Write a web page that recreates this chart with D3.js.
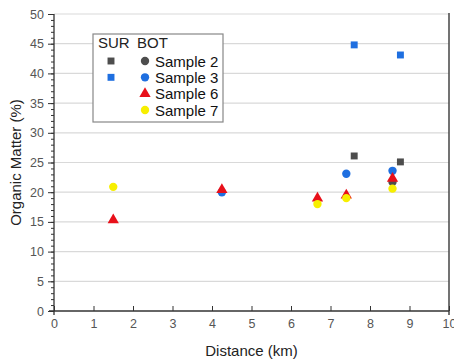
<!DOCTYPE html>
<html>
<head>
<meta charset="utf-8">
<script src="https://cdn.jsdelivr.net/npm/d3@7"></script>
<style>
  html, body { margin: 0; padding: 0; background: #fff; }
  svg { display: block; font-family: Arial, "Liberation Sans", sans-serif; }
</style>
</head>
<body>
<svg id="chart" width="454" height="360"></svg>
<script>
// Organic matter content against distance, surface (SUR) and bottom (BOT) samples
const xTicks = [0, 1, 2, 3, 4, 5, 6, 7, 8, 9, 10];
const yTicks = [0, 5, 10, 15, 20, 25, 30, 35, 40, 45, 50];

const sample2Sur = [{x: 7.6, y: 26.1}, {x: 8.77, y: 25.1}];
const sample3Sur = [{x: 7.6, y: 44.8}, {x: 8.77, y: 43.1}];
const sample2Bot = [{x: 8.57, y: 21.7}];
const sample3Bot = [{x: 4.25, y: 20.0}, {x: 7.4, y: 23.1}, {x: 8.57, y: 23.6}];
const sample6Bot = [{x: 1.5, y: 15.3}, {x: 4.25, y: 20.4}, {x: 6.67, y: 19.0}, {x: 7.4, y: 19.5}, {x: 8.57, y: 22.3}];
const sample7Bot = [{x: 1.5, y: 20.9}, {x: 6.67, y: 18.0}, {x: 7.4, y: 19.0}, {x: 8.57, y: 20.6}];

const colors = { s2: "#4d4d4d", s3: "#1f6fe0", s6: "#e8101a", s7: "#f7ef00" };

const svg = d3.select("#chart");
const m = { left: 54, top: 14, right: 449, bottom: 311 };

const x = d3.scaleLinear().domain([0, 10]).range([m.left, m.right]);
const y = d3.scaleLinear().domain([0, 50]).range([m.bottom, m.top]);

// horizontal grid lines
svg.append("g")
  .selectAll("line")
  .data(yTicks.filter(d => d > 0))
  .join("line")
  .attr("x1", m.left).attr("x2", m.right)
  .attr("y1", d => y(d)).attr("y2", d => y(d))
  .attr("stroke", "#d9d9d9").attr("stroke-width", 1.2);

// right frame edge
svg.append("line")
  .attr("x1", m.right).attr("x2", m.right)
  .attr("y1", m.top - 1).attr("y2", m.bottom + 4)
  .attr("stroke", "#444").attr("stroke-width", 1.5);

// y axis with minor ticks every 1 %
const yAxisG = svg.append("g").attr("transform", `translate(${m.left},0)`);
yAxisG.call(d3.axisLeft(y).tickValues(d3.range(0, 51, 1)).tickSize(3).tickFormat(""))
  .call(g => g.select(".domain").remove())
  .call(g => g.selectAll("line").attr("stroke", "#333"));
yAxisG.append("g")
  .call(d3.axisLeft(y).tickValues(yTicks).tickSize(6).tickPadding(4).tickFormat(d3.format("d")))
  .call(g => g.select(".domain").attr("stroke", "#333").attr("stroke-width", 1.3).attr("d", `M0,${m.bottom + 4}V${m.top}`))
  .call(g => g.selectAll("line").attr("stroke", "#333"))
  .call(g => g.selectAll("text").attr("fill", "#555").attr("font-size", 12.5).attr("font-family", "Arial, 'Liberation Sans', sans-serif"));

// x axis, ticks pointing into the plot
svg.append("g")
  .attr("transform", `translate(0,${m.bottom})`)
  .call(d3.axisTop(x).tickValues(xTicks).tickSize(5).tickFormat(""))
  .call(g => g.select(".domain").remove())
  .call(g => g.selectAll("line").attr("stroke", "#333"));
svg.append("g")
  .attr("transform", `translate(0,${m.bottom})`)
  .call(d3.axisBottom(x).tickValues(xTicks).tickSize(0).tickPadding(8).tickFormat(d3.format("d")))
  .call(g => g.select(".domain").attr("stroke", "#333").attr("stroke-width", 1.3).attr("d", `M${m.left - 5},0H${m.right}`))
  .call(g => g.selectAll("text").attr("fill", "#555").attr("font-size", 12.5).attr("font-family", "Arial, 'Liberation Sans', sans-serif"));

// axis titles
svg.append("text")
  .attr("x", (m.left + m.right) / 2).attr("y", 356)
  .attr("text-anchor", "middle").attr("font-size", 15).attr("fill", "#222")
  .text("Distance (km)");
svg.append("text")
  .attr("transform", `translate(21,${(m.top + m.bottom) / 2}) rotate(-90)`)
  .attr("text-anchor", "middle").attr("font-size", 15).attr("fill", "#222")
  .text("Organic Matter (%)");

// markers
const sym = {
  square: d3.symbol().type(d3.symbolSquare).size(48),
  circle: d3.symbol().type(d3.symbolCircle).size(55),
  triangle: d3.symbol().type(d3.symbolTriangle).size(55)
};

function drawSeries(data, shape, color) {
  svg.append("g")
    .selectAll("path")
    .data(data)
    .join("path")
    .attr("d", sym[shape])
    .attr("transform", d => `translate(${x(d.x)},${y(d.y)})`)
    .attr("fill", color);
}

drawSeries(sample2Sur, "square", colors.s2);
drawSeries(sample3Sur, "square", colors.s3);
drawSeries(sample2Bot, "circle", colors.s2);
drawSeries(sample3Bot, "circle", colors.s3);
drawSeries(sample6Bot, "triangle", colors.s6);
drawSeries(sample7Bot, "circle", colors.s7);

// legend
const lg = svg.append("g");
lg.append("rect")
  .attr("x", 93).attr("y", 34).attr("width", 130).attr("height", 88)
  .attr("fill", "#fff").attr("stroke", "#888").attr("stroke-width", 1.2);
lg.append("text").attr("x", 98).attr("y", 48).attr("font-size", 15).attr("fill", "#222").text("SUR");
lg.append("text").attr("x", 137).attr("y", 48).attr("font-size", 15).attr("fill", "#222").text("BOT");

const legendRows = [
  { label: "Sample 2", color: colors.s2, sur: true, bot: "circle" },
  { label: "Sample 3", color: colors.s3, sur: true, bot: "circle" },
  { label: "Sample 6", color: colors.s6, sur: false, bot: "triangle" },
  { label: "Sample 7", color: colors.s7, sur: false, bot: "circle" }
];
const rowY = d3.scalePoint().domain(legendRows.map(d => d.label)).range([61, 110]);

legendRows.forEach(r => {
  const cy = rowY(r.label);
  if (r.sur) {
    lg.append("path").attr("d", sym.square).attr("transform", `translate(111,${cy})`).attr("fill", r.color);
  }
  lg.append("path").attr("d", sym[r.bot]).attr("transform", `translate(145,${cy})`).attr("fill", r.color);
  lg.append("text").attr("x", 155).attr("y", cy + 5.5).attr("font-size", 15).attr("fill", "#111").text(r.label);
});
</script>
</body>
</html>
